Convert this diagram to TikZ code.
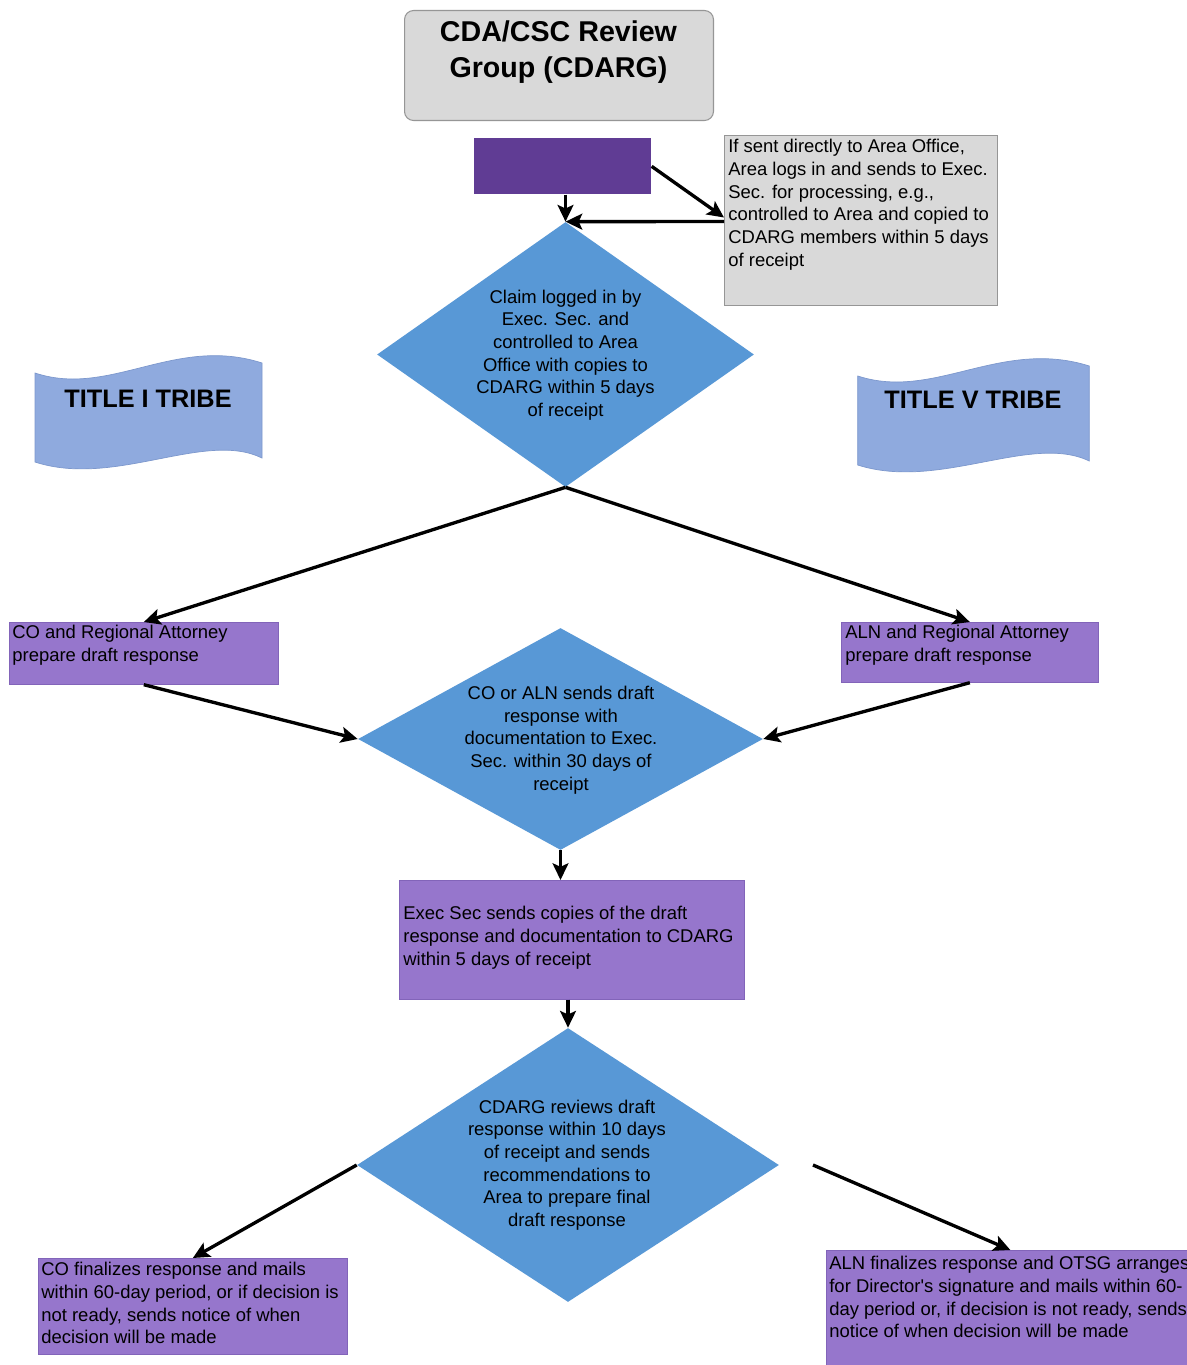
\documentclass[tikz,border=0pt]{standalone}
\usepackage{fontspec}
\setmainfont{Liberation Sans}
\usetikzlibrary{shapes.geometric,arrows.meta}
\definecolor{dblue}{RGB}{88,152,214}
\definecolor{bannerblue}{RGB}{143,170,222}
\definecolor{bannerline}{RGB}{125,152,205}
\definecolor{lpurple}{RGB}{150,118,204}
\definecolor{lpurpleline}{RGB}{130,100,185}
\definecolor{dpurple}{RGB}{96,60,148}
\definecolor{lgray}{RGB}{217,217,217}
\definecolor{edgegray}{RGB}{150,150,150}
\begin{document}
\begin{tikzpicture}[x=0.02cm,y=-0.02cm,
  dia/.style={diamond, fill=dblue, draw=none, inner sep=0pt, aspect=1},
  pbox/.style={rectangle, fill=lpurple, draw=lpurpleline, line width=0.4pt, inner sep=0pt, anchor=north west},
  txt/.style={font=\fontsize{10.5}{12.9}\selectfont, inner sep=0pt, align=left, anchor=north west, text=black},
  ctxt/.style={font=\fontsize{10.5}{12.9}\selectfont, inner sep=0pt, align=center, text=black},
  arr/.style={line width=1.9pt, draw=black, -{Stealth[length=9.5pt,width=9pt,inset=2pt]}},
  bannertxt/.style={font=\fontsize{14.4}{17}\selectfont\bfseries, inner sep=0pt, text=black}
]
\fill[white] (0,0) rectangle (1186,1365);
\useasboundingbox (0,0) rectangle (1186,1365);

% title box
\node[rectangle, rounded corners=0.18cm, fill=lgray, draw=edgegray, line width=0.6pt,
      minimum width=6.18cm, minimum height=2.2cm, inner sep=0pt, anchor=north west] (tb) at (404,10) {};
\node[font=\fontsize{16.3}{20.4}\selectfont\bfseries, align=center, inner sep=0pt] (tbt) at (558.5,52) {CDA/CSC Review\\Group (CDARG)};

% dark purple box
\node[rectangle, fill=dpurple, draw=none, minimum width=3.54cm, minimum height=1.12cm, inner sep=0pt, anchor=north west] (pb) at (474,138) {};

% gray note box
\node[rectangle, fill=lgray, draw=edgegray, line width=0.6pt, minimum width=5.46cm, minimum height=3.4cm, inner sep=0pt, anchor=north west] (gb) at (724,135) {};
\node[txt] (gbt) at (728,139) {If sent directly to Area Office,\\Area logs in and sends to Exec.\\Sec. for processing, e.g.,\\controlled to Area and copied to\\CDARG members within 5 days\\of receipt};

% diamond 1
\node[dia, minimum width=7.54cm, minimum height=5.3cm] (d1) at (565.5,354.5) {};
\node[ctxt] (d1t) at (565.5,355) {Claim logged in by\\Exec. Sec. and\\controlled to Area\\Office with copies to\\CDARG within 5 days\\of receipt};

% banners
\fill[bannerblue, draw=bannerline, line width=0.4pt] (35,373) .. controls (110,398) and (175,335) .. (262,363)
  -- (262,458) .. controls (205,430) and (115,488) .. (35,462) -- cycle;
\node[bannertxt] (b1) at (148,399) {TITLE I TRIBE};
\begin{scope}[shift={(822,3)}, xscale=1.02]
\fill[bannerblue, draw=bannerline, line width=0.4pt] (35,373) .. controls (110,398) and (175,335) .. (262,363)
  -- (262,458) .. controls (205,430) and (115,488) .. (35,462) -- cycle;
\end{scope}
\node[bannertxt] (b5) at (973,400) {TITLE V TRIBE};

% left / right purple boxes
\node[pbox, minimum width=5.38cm, minimum height=1.24cm] (lb) at (9,622) {};
\node[txt] (lbt) at (12,625) {CO and Regional Attorney\\prepare draft response};
\node[pbox, minimum width=5.14cm, minimum height=1.2cm] (rb) at (841,622) {};
\node[txt] (rbt) at (845,625) {ALN and Regional Attorney\\prepare draft response};

% diamond 2
\node[dia, minimum width=8.1cm, minimum height=4.44cm] (d2) at (560.5,739) {};
\node[ctxt] (d2t) at (561,740) {CO or ALN sends draft\\response with\\documentation to Exec.\\Sec. within 30 days of\\receipt};

% middle purple box
\node[pbox, minimum width=6.9cm, minimum height=2.38cm] (mb) at (399,880) {};
\node[txt] (mbt) at (403,906) {Exec Sec sends copies of the draft\\response and documentation to CDARG\\within 5 days of receipt};

% diamond 3
\node[dia, minimum width=8.44cm, minimum height=5.48cm] (d3) at (568,1165) {};
\node[ctxt] (d3t) at (567,1165) {CDARG reviews draft\\response within 10 days\\of receipt and sends\\recommendations to\\Area to prepare final\\draft response};

% bottom boxes
\node[pbox, minimum width=6.18cm, minimum height=1.92cm] (blb) at (38,1258) {};
\node[txt] (blbt) at (41,1262) {CO finalizes response and mails\\within 60-day period, or if decision is\\not ready, sends notice of when\\decision will be made};
\node[pbox, minimum width=7.36cm, minimum height=2.5cm] (brb) at (826,1250) {};
\node[txt] (brbt) at (829,1256) {ALN finalizes response and OTSG arranges\\for Director\textquotesingle s signature and mails within 60-\\day period or, if decision is not ready, sends\\notice of when decision will be made};

% connectors
\draw[arr] (d1.north |- pb.south) -- (d1.north);
\draw[arr] (pb.east) -- ([yshift=0.06cm]gb.west);
\draw[arr] ([yshift=-0.02cm]gb.west) -- (d1.north);
\draw[arr] (d1.south) -- (lb.north);
\draw[arr] (d1.south) -- (rb.north);
\draw[arr] (lb.south) -- (d2.west);
\draw[arr] (rb.south) -- (d2.east);
\draw[arr] (d2.south) -- (d2.south |- mb.north);
\draw[arr] (d3.north |- mb.south) -- (d3.north);
\draw[arr] (d3.west) -- (blb.north);
\coordinate (free) at (813,1165);
\draw[arr] (free) -- (brb.north);
\end{tikzpicture}
\end{document}
